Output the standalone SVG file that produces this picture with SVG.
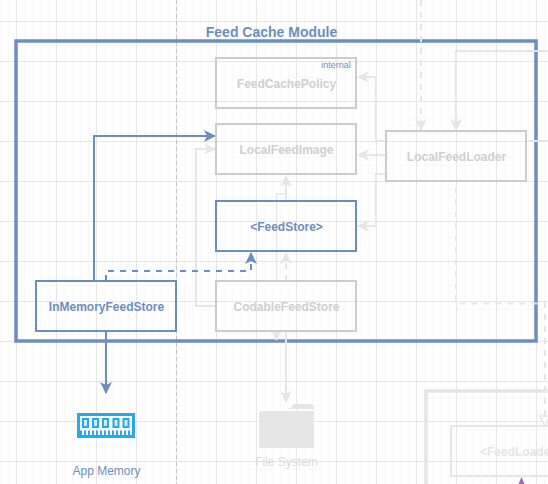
<svg xmlns="http://www.w3.org/2000/svg" width="548" height="484" viewBox="0 0 548 484">
<style>
text{font-family:"Liberation Sans",Arial,sans-serif;text-anchor:middle}
.t{font-size:12px;font-weight:bold}
.gray{fill:#cfcfcf}.blue{fill:#6c8ebf}
.box{fill:none;stroke:#cccccc;stroke-width:2}
.bbox{fill:none;stroke:#6c8ebf;stroke-width:2}
.l{fill:none;stroke:#e6e6e6;stroke-width:2}
.d{stroke-dasharray:6 6}
.bl{fill:none;stroke:#6c8ebf;stroke-width:2}
</style>
<defs>
<marker id="ag" viewBox="0 0 12 12" refX="11" refY="6" markerWidth="12" markerHeight="12" markerUnits="userSpaceOnUse" orient="auto"><path d="M0 0L12 6L0 12L3 6Z" fill="#e6e6e6"/></marker>
<marker id="ab" viewBox="0 0 12 12" refX="11" refY="6" markerWidth="12" markerHeight="12" markerUnits="userSpaceOnUse" orient="auto"><path d="M0 0L12 6L0 12L3 6Z" fill="#6c8ebf"/></marker>
<marker id="ao" viewBox="0 0 12 12" refX="11" refY="6" markerWidth="12" markerHeight="12" markerUnits="userSpaceOnUse" orient="auto"><path d="M1 1L11 6L1 11Z" fill="#fff" stroke="#e6e6e6" stroke-width="1.500"/></marker>
<pattern id="gm" width="8" height="8" patternUnits="userSpaceOnUse" x="0" y="5"><path d="M0.500 0V8M0 0.500H8" fill="none" stroke="#f9f9f9" stroke-width="1"/></pattern>
<pattern id="gM" width="40" height="40" patternUnits="userSpaceOnUse" x="16" y="21"><path d="M0.500 0V40M0 0.500H40" fill="none" stroke="#e6e6e6" stroke-width="1"/></pattern>
</defs>
<rect width="548" height="484" fill="#fff"/>
<rect width="548" height="484" fill="url(#gm)"/>
<rect width="548" height="484" fill="url(#gM)"/>
<path d="M176.500 0V484" stroke="#c4c4c4" stroke-width="1" stroke-dasharray="4 3" fill="none"/>
<g id="module">
<rect x="16" y="41" width="520" height="300" fill="none" stroke="#6c8ebf" stroke-width="3.500"/>
<text x="271.500" y="37" class="blue" style="font-size:14px;font-weight:bold">Feed Cache Module</text>
</g>
<g id="composer-box"><path d="M548 391H426V484" fill="none" stroke="#e6e6e6" stroke-width="3.500"/></g>
<g id="connectors">
<path class="l d" d="M421 0V130" marker-end="url(#ag)"/>
<path class="l" d="M548 51H456V130" marker-end="url(#ag)"/>
<path class="l" d="M548 141H526"/>
<path class="l d" style="stroke-dashoffset:6" d="M456 181V303.500H545V426" marker-end="url(#ao)"/>
<path class="l" d="M386 141H376V77H358" marker-end="url(#ag)"/>
<path class="l" d="M386 155H358" marker-end="url(#ag)"/>
<path class="l" d="M386 174H376V226H358" marker-end="url(#ag)"/>
<path class="l" d="M286 201V176" marker-end="url(#ag)"/>
<path class="l" style="stroke-width:1.500" d="M276.500 281V194H286"/>
<path class="l d" d="M286 281V253" marker-end="url(#ag)"/>
<path class="l" d="M216 306H196V149H215" marker-end="url(#ag)"/>
<path class="l" d="M276.500 331V340" marker-end="url(#ag)"/>
<path class="l" d="M286 331V402" marker-end="url(#ag)"/>
<path class="bl" d="M94 281V136H215" marker-end="url(#ab)"/>
<path class="bl d" d="M106 281V271H251V253" marker-end="url(#ab)"/>
<path class="bl" d="M106 331V393" marker-end="url(#ab)"/>
<path d="M518.500 484L521.500 477L524.500 484Z" fill="#9673a6"/>
</g>
<g id="feedcachepolicy"><rect class="box" x="216" y="58" width="140" height="50"/><text class="t gray" x="286.500" y="88">FeedCachePolicy</text><text x="336" y="68" class="blue" style="font-size:9px">internal</text></g>
<g id="localfeedimage"><rect class="box" x="216" y="124" width="140" height="50"/><text class="t gray" x="286.500" y="154">LocalFeedImage</text></g>
<g id="feedstore"><rect class="bbox" x="216" y="201" width="140" height="50"/><text class="t blue" x="286.500" y="231">&lt;FeedStore&gt;</text></g>
<g id="codablefeedstore"><rect class="box" x="216" y="281" width="140" height="50"/><text class="t gray" x="286.500" y="311">CodableFeedStore</text></g>
<g id="inmemoryfeedstore"><rect class="bbox" x="36" y="281" width="140" height="50"/><text class="t blue" x="106.500" y="311">InMemoryFeedStore</text></g>
<g id="localfeedloader"><rect class="box" x="386" y="131" width="140" height="50"/><text class="t gray" x="456.500" y="161">LocalFeedLoader</text></g>
<g id="feedloader"><rect x="451" y="426" width="110" height="50" fill="none" stroke="#e6e6e6" stroke-width="2"/><text class="t" fill="#e6e6e6" x="521" y="456">&lt;FeedLoader&gt;</text></g>
<g id="app-memory">
<rect x="78.500" y="414.500" width="55" height="22" fill="none" stroke="#28a8ea" stroke-width="3"/>
<g fill="#cfeafa" stroke="#28a8ea" stroke-width="2"><rect x="83" y="419" width="5" height="8"/><rect x="93" y="419" width="5" height="8"/><rect x="103" y="419" width="5" height="8"/><rect x="113.500" y="419" width="5" height="8"/><rect x="123.500" y="419" width="5" height="8"/></g>
<path d="M81 437V430.500M85 437V430.500M89 437V430.500M93 437V430.500M97 437V430.500M101 437V430.500M105 437V430.500M109 437V430.500M113 437V430.500M117 437V430.500M121 437V430.500M125 437V430.500M129 437V430.500" stroke="#28a8ea" stroke-width="2" fill="none"/>
<text class="blue" x="106.500" y="475" style="font-size:12px">App Memory</text>
</g>
<g id="file-system">
<path d="M259 448V414Q259 411 262 411H314V448Z M289 409L294 404H311Q314 404 314 407V409Z" fill="#e6e6e6"/>
<text x="286.500" y="466" style="font-size:12px;fill:#dcdcdc">File System</text>
</g>
</svg>
